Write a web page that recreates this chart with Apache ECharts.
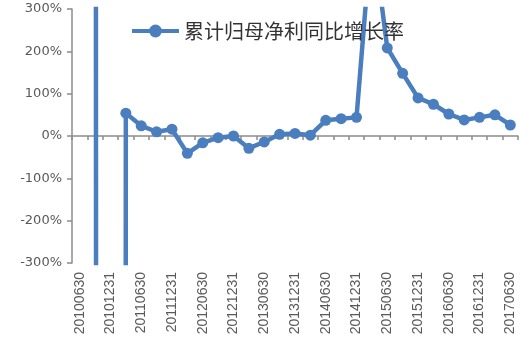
<!DOCTYPE html>
<html>
<head>
<meta charset="utf-8">
<script src="https://cdn.jsdelivr.net/npm/echarts@6/dist/echarts.min.js"></script>
<style>
html,body{margin:0;padding:0;background:#fff;}
#c{width:530px;height:340px;}
</style>
</head>
<body>
<div id="c"></div>
<script>
var categories = ['20100630','20100930','20101231','20110331','20110630','20110930','20111231','20120331','20120630','20120930','20121231','20130331','20130630','20130930','20131231','20140331','20140630','20140930','20141231','20150331','20150630','20150930','20151231','20160331','20160630','20160930','20161231','20170331','20170630'];
var seriesName = '累计归母净利同比增长率';
var growthPct = [null, 5000, -80000, 54, 24, 10, 16, -41, -16, -4, 0, -29, -14, 4, 6, 2, 37, 41, 44, 490, 208, 148, 90, 75, 52, 38, 44, 50, 26];
var yMin = -300, yMax = 300, yStep = 100;

var chart = echarts.init(document.getElementById('c'), null, {renderer: 'canvas'});
var blue = '#4a7ebf';
var axisGray = '#8c8c8c';
var textGray = '#595959';
chart.setOption({
  animation: false,
  backgroundColor: '#fff',
  grid: {left: 72, right: 12, top: 9, bottom: 77, containLabel: false},
  legend: {
    left: 125, top: 16,
    itemWidth: 47, itemHeight: 16, itemGap: 10,
    textStyle: {fontFamily: 'Noto Sans CJK SC', fontSize: 20, color: '#333', padding: [0,0,0,0]},
    itemStyle: {color: blue},
    lineStyle: {color: blue, width: 4},
    data: [seriesName]
  },
  xAxis: [{
    type: 'category', data: categories, position: 'bottom', boundaryGap: true,
    axisLine: {show: false, onZero: false},
    axisTick: {show: false},
    axisLabel: {rotate: 90, interval: 1, margin: 9, color: textGray, fontFamily: 'Liberation Sans', fontSize: 14}
  }, {
    type: 'category', data: categories, boundaryGap: true,
    axisLine: {show: true, onZero: true, lineStyle: {color: axisGray, width: 1.5}},
    axisTick: {show: true, inside: true, length: 4, interval: 0, lineStyle: {color: axisGray, width: 1.5}},
    axisLabel: {show: false}
  }],
  yAxis: {
    type: 'value', min: yMin, max: yMax, interval: yStep,
    splitLine: {show: false},
    axisLine: {show: true, lineStyle: {color: axisGray, width: 1.5}},
    axisTick: {show: true, length: 5, lineStyle: {color: axisGray, width: 1.5}},
    axisLabel: {formatter: '{value}%', margin: 10, color: textGray, fontFamily: 'DejaVu Sans', fontSize: 13}
  },
  series: [{
    name: seriesName, type: 'line', xAxisIndex: 0, data: growthPct,
    clip: true, connectNulls: false,
    symbol: 'circle', symbolSize: 11, showSymbol: true, showAllSymbol: true,
    lineStyle: {color: blue, width: 4.5},
    itemStyle: {color: blue}
  }]
});
</script>
</body>
</html>
